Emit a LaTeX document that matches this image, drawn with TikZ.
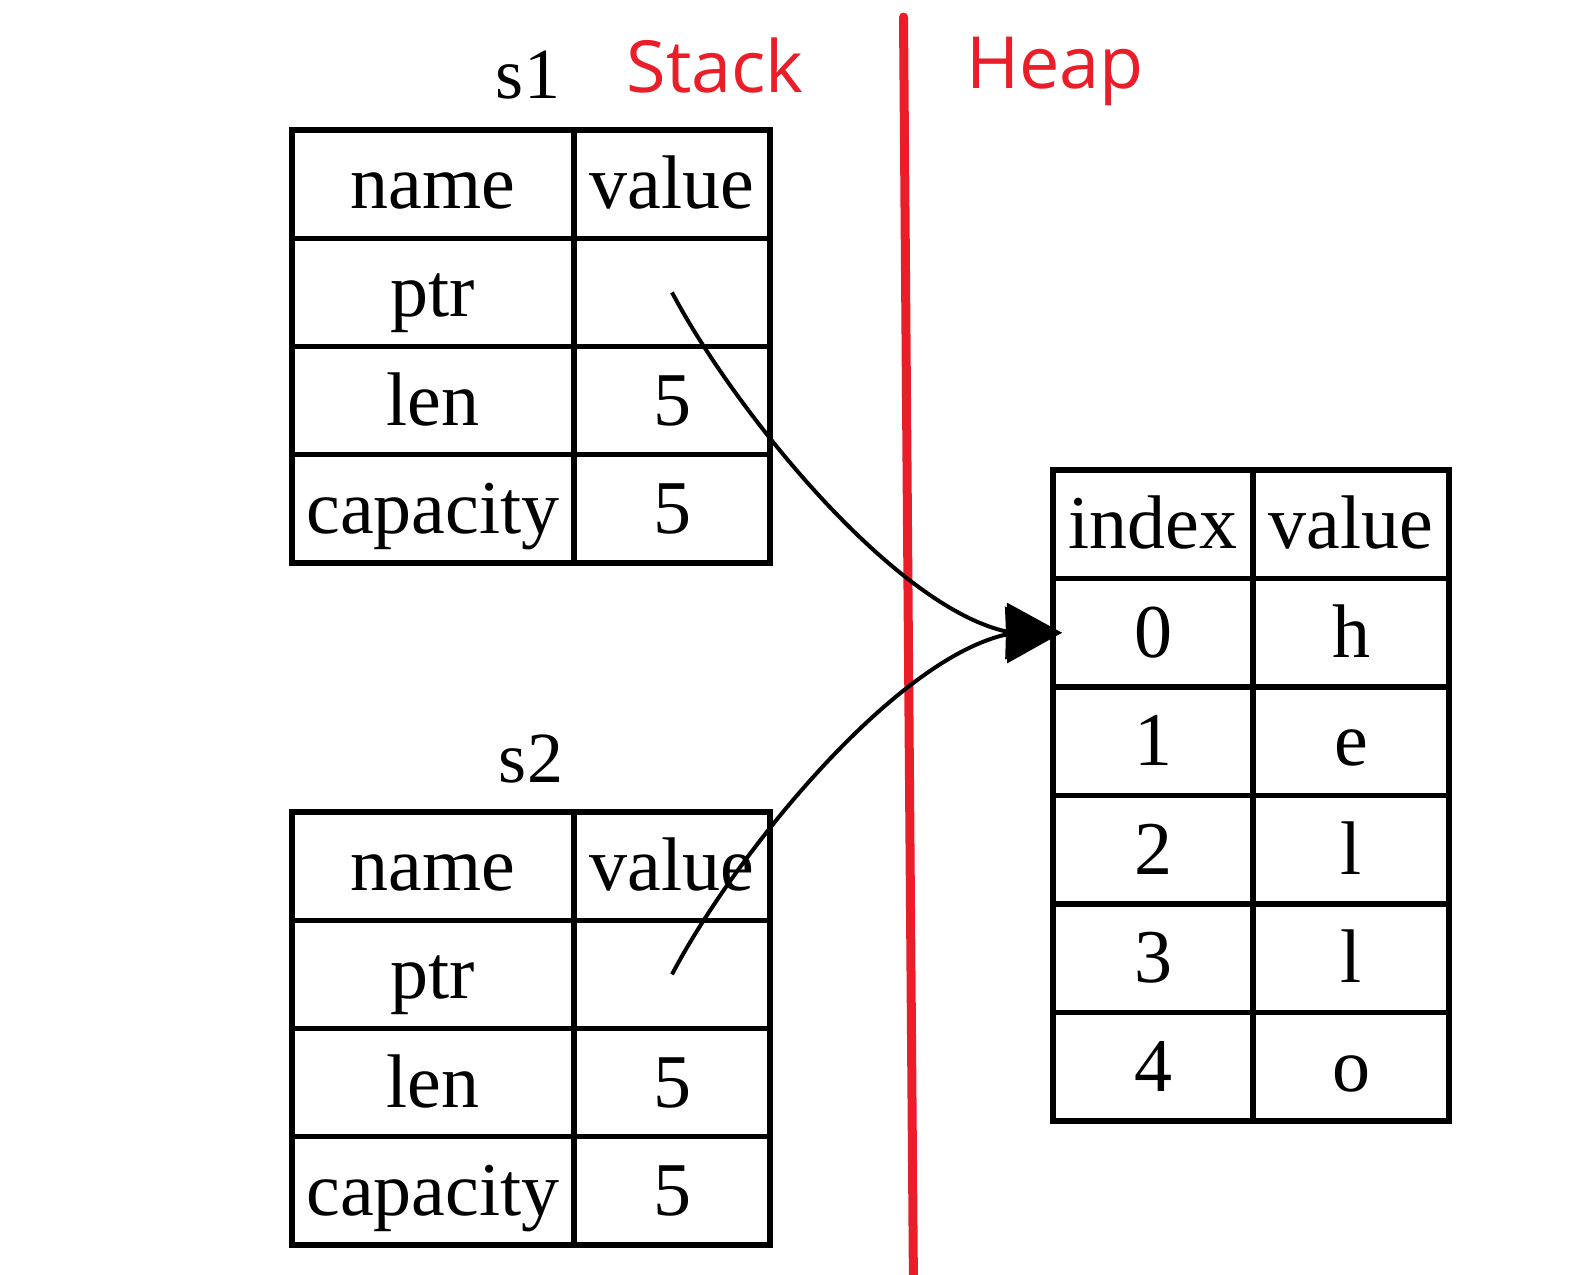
\documentclass[tikz,border=0pt]{standalone}
\usepackage{fontspec}
\setmainfont{Liberation Serif}
\newfontfamily\redsans{Open Sans}
\usetikzlibrary{arrows.meta}
\definecolor{sepred}{RGB}{234,30,40}
\begin{document}
\begin{tikzpicture}[x=0.5pt,y=-0.5pt,
  cell/.style={draw, line width=2.6pt, inner sep=0pt, outer sep=0pt,
    font=\fontsize{38}{40}\selectfont, text height=28.5pt, text depth=4pt},
  namecol/.style={cell, minimum width=141pt, minimum height=54.15pt},
  valcol/.style={cell, minimum width=98pt, minimum height=54.15pt},
  idxcol/.style={cell, minimum width=100pt, minimum height=54.25pt},
  hvalcol/.style={cell, minimum width=98pt, minimum height=54.25pt},
  varlabel/.style={inner sep=0pt, anchor=base, font=\fontsize{36}{38}\selectfont},
  redlabel/.style={inner sep=0pt, anchor=base, text=sepred, font=\redsans\fontsize{36}{38}\selectfont},
  conn/.style={line width=2pt, -{Triangle[length=28pt,width=28pt]}},
  divider/.style={draw=sepred, line width=4.5pt, line cap=round}
]
\useasboundingbox (0,0) rectangle (1571,1275);

% separator and titles
\coordinate (dtop) at (903.5,17);
\coordinate (dbot) at (913.5,1290);
\draw[divider] (dtop) -- (dbot);
\node[redlabel] (stack) at (715,92) {Stack};
\node[redlabel] (heap) at (1055,88) {Heap};

% s1
\node[varlabel] (s1) at (528,98) {s1};
\node[namecol] (s1a0) at (433,184.1) {name};
\node[valcol]  (s1b0) at (672,184.1) {value};
\node[namecol] (s1a1) at (433,292.4) {ptr};
\node[valcol]  (s1b1) at (672,292.4) {};
\node[namecol] (s1a2) at (433,400.6) {len};
\node[valcol]  (s1b2) at (672,400.6) {5};
\node[namecol] (s1a3) at (433,508.9) {capacity};
\node[valcol]  (s1b3) at (672,508.9) {5};

% s2
\node[varlabel] (s2) at (531,782) {s2};
\node[namecol] (s2a0) at (433,866.1) {name};
\node[valcol]  (s2b0) at (672,866.1) {value};
\node[namecol] (s2a1) at (433,974.4) {ptr};
\node[valcol]  (s2b1) at (672,974.4) {};
\node[namecol] (s2a2) at (433,1082.6) {len};
\node[valcol]  (s2b2) at (672,1082.6) {5};
\node[namecol] (s2a3) at (433,1190.9) {capacity};
\node[valcol]  (s2b3) at (672,1190.9) {5};

% heap
\node[idxcol]  (hi0) at (1153,524.25) {index};
\node[hvalcol] (hv0) at (1351,524.25) {value};
\node[idxcol]  (hi1) at (1153,632.75) {0};
\node[hvalcol] (hv1) at (1351,632.75) {h};
\node[idxcol]  (hi2) at (1153,741.25) {1};
\node[hvalcol] (hv2) at (1351,741.25) {e};
\node[idxcol]  (hi3) at (1153,849.75) {2};
\node[hvalcol] (hv3) at (1351,849.75) {l};
\node[idxcol]  (hi4) at (1153,958.25) {3};
\node[hvalcol] (hv4) at (1351,958.25) {l};
\node[idxcol]  (hi5) at (1153,1066.75) {4};
\node[hvalcol] (hv5) at (1351,1066.75) {o};

% pointers
\coordinate (p1) at (s1b1.center);
\coordinate (p2) at (s2b1.center);
\coordinate (tip) at ([xshift=4.5pt]hi1.west);
\draw[conn] (p1) .. controls (733,408) and (890,603) .. (1004,631) -- (tip);
\draw[conn] (p2) .. controls (733,858) and (890,663) .. (1004,635) -- (tip);
\end{tikzpicture}
\end{document}
